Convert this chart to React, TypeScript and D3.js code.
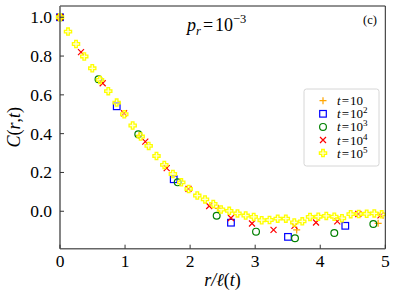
import React from 'react';
import * as d3 from 'd3';

// t = 10 (orange plus)
const rT1 = [0, 1.215, 2.433, 3.638, 4.89];
const cT1 = [1.0, 0.39, 0.015, -0.096, -0.062];
// t = 10^2 (blue square)
const rT2 = [0, 0.872, 1.748, 2.628, 3.504, 4.385];
const cT2 = [1.0, 0.541, 0.165, -0.059, -0.132, -0.075];
// t = 10^3 (green circle)
const rT3 = [0, 0.592, 1.203, 1.809, 2.408, 3.013, 3.612, 4.216, 4.816];
const cT3 = [1.0, 0.68, 0.397, 0.149, -0.023, -0.105, -0.139, -0.112, -0.066];
// t = 10^4 (red x)
const rT4 = [0, 0.323, 0.656, 0.984, 1.311, 1.64, 1.975, 2.293, 2.628, 2.951, 3.282, 3.604, 3.935, 4.262, 4.585, 4.926];
const cT4 = [1.0, 0.82, 0.66, 0.505, 0.359, 0.222, 0.115, 0.027, -0.035, -0.063, -0.096, -0.075, -0.058, -0.052, -0.014, -0.021];
// t = 10^5 (yellow filled plus)
const rT5 = [0, 0.123, 0.246, 0.373, 0.496, 0.615, 0.742, 0.871, 0.988, 1.117, 1.24, 1.363, 1.483, 1.603, 1.735, 1.864, 1.978, 2.11, 2.229, 2.356, 2.475, 2.601, 2.728, 2.854, 2.977, 3.1, 3.22, 3.346, 3.471, 3.601, 3.724, 3.843, 3.97, 4.093, 4.216, 4.334, 4.468, 4.591, 4.714, 4.831, 4.945];
const cT5 = [1.0, 0.926, 0.862, 0.798, 0.737, 0.677, 0.619, 0.56, 0.5, 0.442, 0.385, 0.337, 0.285, 0.239, 0.192, 0.149, 0.115, 0.081, 0.061, 0.038, 0.009, 0.002, -0.011, -0.022, -0.029, -0.046, -0.045, -0.038, -0.038, -0.058, -0.052, -0.029, -0.028, -0.024, -0.028, -0.036, -0.015, -0.014, -0.013, -0.011, -0.016];

const xTicks = [0, 1, 2, 3, 4, 5];
const yTicks = [0.0, 0.2, 0.4, 0.6, 0.8, 1.0];
const legendSup = ['', '2', '3', '4', '5'];

const SERIF = 'Liberation Serif, DejaVu Serif, serif';

type Kind = 'plus' | 'square' | 'circle' | 'x' | 'fatplus';

const Marker: React.FC<{ kind: Kind; x: number; y: number }> = ({ kind, x, y }) => {
  if (kind === 'plus') {
    return <path d={`M${x - 3.5},${y}H${x + 3.5}M${x},${y - 3.5}V${y + 3.5}`} stroke="#ffa500" strokeWidth={1.2} fill="none" />;
  }
  if (kind === 'square') {
    return <rect x={x - 3.3} y={y - 3.3} width={6.6} height={6.6} stroke="#0000ff" strokeWidth={1.2} fill="none" />;
  }
  if (kind === 'circle') {
    return <circle cx={x} cy={y} r={3.4} stroke="#008000" strokeWidth={1.2} fill="none" />;
  }
  if (kind === 'x') {
    return <path d={`M${x - 3},${y - 3}L${x + 3},${y + 3}M${x - 3},${y + 3}L${x + 3},${y - 3}`} stroke="#ff0000" strokeWidth={1.2} fill="none" />;
  }
  const a = 1.3, b = 3.6;
  const d = `M${x - a},${y - b}H${x + a}V${y - a}H${x + b}V${y + a}H${x + a}V${y + b}H${x - a}V${y + a}H${x - b}V${y - a}H${x - a}Z`;
  return <path d={d} stroke="#ffff00" strokeWidth={1.3} fill="#ffffb0" fillOpacity={0.5} />;
};

const App: React.FC = () => {
  const W = 398, H = 298;
  const left = 60, right = 385.3, top = 6, bottom = 248.7;
  const x = d3.scaleLinear().domain([0, 5]).range([left, right]);
  const y = d3.scaleLinear().domain([-0.193, 1.058]).range([bottom, top]);

  const series: { r: number[]; c: number[]; kind: Kind }[] = [
    { r: rT1, c: cT1, kind: 'plus' },
    { r: rT2, c: cT2, kind: 'square' },
    { r: rT3, c: cT3, kind: 'circle' },
    { r: rT4, c: cT4, kind: 'x' },
    { r: rT5, c: cT5, kind: 'fatplus' },
  ];

  const legY0 = 100.7, legStep = 13.1;
  const txt = { fontFamily: SERIF } as React.CSSProperties;

  return (
    <svg width={W} height={H} style={{ position: 'absolute', left: 0, top: 0, fontFamily: SERIF }}>
      <rect width={W} height={H} fill="#fff" />
      {/* data */}
      <g>
        {series.map((s, si) => (
          <g key={si}>
            {s.r.map((rv, i) => (
              <Marker key={i} kind={s.kind} x={x(rv)} y={y(s.c[i])} />
            ))}
          </g>
        ))}
      </g>
      {/* spines */}
      <line x1={left} x2={right} y1={top} y2={top} stroke="#222" strokeWidth={1} />
      <line x1={right} x2={right} y1={top} y2={bottom} stroke="#222" strokeWidth={1} />
      <line x1={left} x2={left} y1={top} y2={bottom} stroke="#666" strokeWidth={1.6} />
      <line x1={left} x2={right} y1={bottom} y2={bottom} stroke="#666" strokeWidth={1.6} />
      {/* x ticks */}
      {xTicks.map(t => (
        <g key={t}>
          <line x1={x(t)} x2={x(t)} y1={bottom} y2={bottom - 4} stroke="#333" strokeWidth={1} />
          <text x={x(t)} y={266.5} textAnchor="middle" fontSize={17.5} fill="#000" style={txt}>{t}</text>
        </g>
      ))}
      {/* y ticks */}
      {yTicks.map(t => (
        <g key={t}>
          <line x1={left} x2={left + 4} y1={y(t)} y2={y(t)} stroke="#333" strokeWidth={1} />
          <text x={52} y={y(t) + 6} textAnchor="end" fontSize={17.5} fill="#000" style={txt}>{t.toFixed(1)}</text>
        </g>
      ))}
      {/* axis labels */}
      <text x={222.6} y={286} textAnchor="middle" fontSize={18} fill="#000" fontStyle="italic" style={txt}>
        r/ℓ<tspan fontStyle="normal">(</tspan>t<tspan fontStyle="normal">)</tspan>
      </text>
      <text transform={`translate(20,${(top + bottom) / 2}) rotate(-90)`} textAnchor="middle" fontSize={18} fill="#000" fontStyle="italic" style={txt}>
        C<tspan fontStyle="normal">(</tspan>r<tspan fontStyle="normal">,</tspan>t<tspan fontStyle="normal">)</tspan>
      </text>
      {/* title */}
      <text x={187} y={31} fontSize={18} fill="#000" style={txt}>
        <tspan fontStyle="italic">p</tspan>
        <tspan fontStyle="italic" fontSize={12.5} dy={4}>r</tspan>
        <tspan dy={-4} dx={2}>=</tspan>
        <tspan dx={2}>10</tspan>
        <tspan fontSize={12.5} dy={-8}>−3</tspan>
      </text>
      <text x={363} y={23.5} fontSize={12.5} fill="#000" style={txt}>(c)</text>
      {/* legend */}
      <rect x={304} y={89} width={75} height={77} rx={2.5} fill="#fff" fillOpacity={0.8} stroke="#d6d6d6" strokeWidth={1} />
      {series.map((s, i) => (
        <g key={i}>
          <Marker kind={s.kind} x={323} y={legY0 + i * legStep} />
          <text x={337} y={legY0 + i * legStep + 4.5} fontSize={13} fill="#000" style={txt}>
            <tspan fontStyle="italic">t</tspan>
            <tspan dx={1}>=</tspan>
            <tspan dx={1}>10</tspan>
            {legendSup[i] && <tspan fontSize={9} dy={-5}>{legendSup[i]}</tspan>}
          </text>
        </g>
      ))}
    </svg>
  );
};

export default App;
